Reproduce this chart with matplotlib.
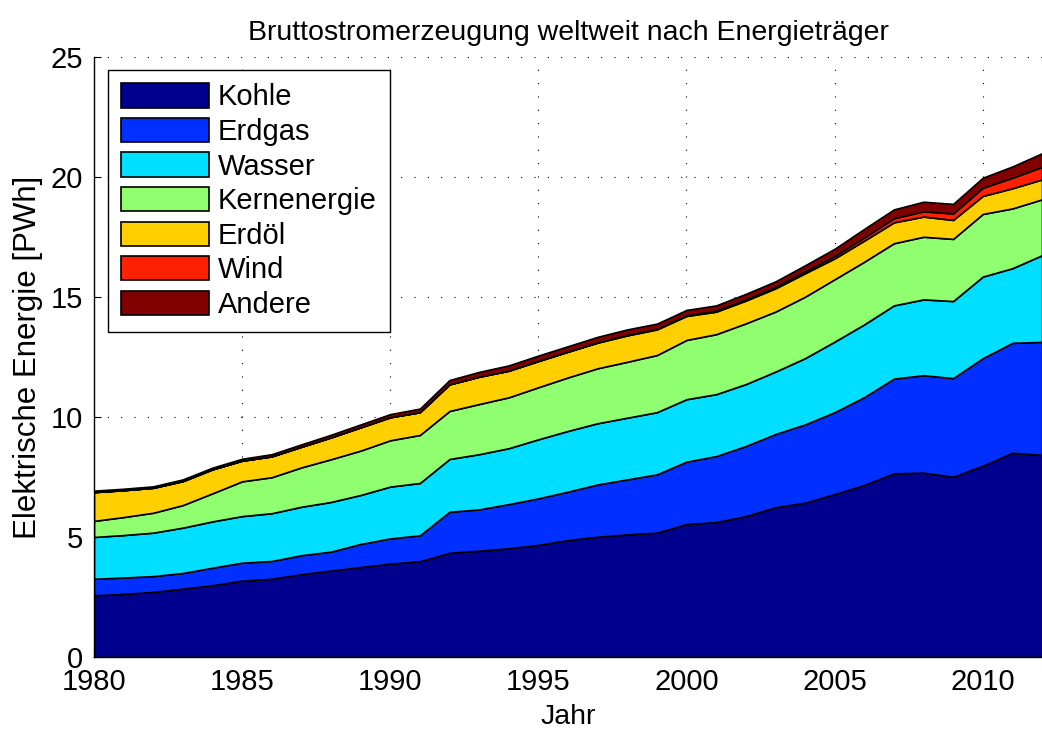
import numpy as np
import matplotlib
matplotlib.use('Agg')
import matplotlib.pyplot as plt

plt.rcParams['font.family'] = ['Liberation Sans', 'DejaVu Sans']

years = np.arange(1980, 2013)

# values in PWh
kohle = [2.57, 2.63, 2.71, 2.85, 2.99, 3.18, 3.26, 3.45, 3.60, 3.75, 3.89, 3.99, 4.34,
         4.43, 4.53, 4.67, 4.87, 5.01, 5.11, 5.18, 5.54, 5.62, 5.87, 6.24, 6.43, 6.79,
         7.17, 7.65, 7.68, 7.51, 7.97, 8.51, 8.42]
erdgas = [0.69, 0.68, 0.66, 0.65, 0.73, 0.75, 0.74, 0.79, 0.79, 0.96, 1.05, 1.08, 1.71,
          1.72, 1.84, 1.94, 2.02, 2.18, 2.29, 2.43, 2.60, 2.75, 2.92, 3.05, 3.26, 3.41,
          3.66, 3.95, 4.06, 4.11, 4.48, 4.58, 4.71]
wasser = [1.74, 1.77, 1.81, 1.89, 1.93, 1.94, 1.99, 2.02, 2.07, 2.04, 2.16, 2.18, 2.20,
          2.30, 2.33, 2.46, 2.53, 2.55, 2.57, 2.59, 2.60, 2.58, 2.58, 2.60, 2.76, 2.94,
          3.03, 3.05, 3.16, 3.21, 3.40, 3.11, 3.61]
kern = [0.67, 0.75, 0.83, 0.94, 1.17, 1.45, 1.50, 1.64, 1.78, 1.85, 1.93, 2.00, 2.00,
        2.09, 2.12, 2.17, 2.23, 2.29, 2.33, 2.38, 2.47, 2.50, 2.53, 2.50, 2.56, 2.60,
        2.61, 2.59, 2.61, 2.59, 2.61, 2.49, 2.33]
erdoel = [1.20, 1.12, 1.04, 1.00, 1.00, 0.86, 0.87, 0.86, 0.91, 0.97, 0.96, 0.95, 1.11,
          1.14, 1.11, 1.09, 1.07, 1.07, 1.10, 1.07, 1.00, 0.94, 0.95, 0.97, 0.98, 0.87,
          0.88, 0.87, 0.84, 0.79, 0.75, 0.84, 0.83]
wind = [0.0, 0.0, 0.0, 0.0, 0.0, 0.0, 0.0, 0.0, 0.0, 0.0, 0.0, 0.0, 0.0,
        0.0, 0.0, 0.01, 0.01, 0.01, 0.02, 0.02, 0.03, 0.04, 0.05, 0.06, 0.08, 0.10,
        0.13, 0.17, 0.22, 0.27, 0.34, 0.44, 0.52]
andere = [0.06, 0.06, 0.06, 0.07, 0.07, 0.08, 0.09, 0.10, 0.11, 0.12, 0.13, 0.15, 0.18,
          0.20, 0.22, 0.22, 0.22, 0.23, 0.23, 0.22, 0.22, 0.22, 0.23, 0.23, 0.25, 0.30,
          0.36, 0.37, 0.40, 0.40, 0.42, 0.47, 0.57]

labels = ['Kohle', 'Erdgas', 'Wasser', 'Kernenergie', 'Erdöl', 'Wind', 'Andere']
colors = [(0, 0, 0.5625), (0, 0.1875, 1), (0, 0.875, 1), (0.5625, 1, 0.4375),
          (1, 0.8125, 0), (1, 0.125, 0), (0.5, 0, 0)]

fig = plt.figure(figsize=(10.42, 7.29), dpi=100)
ax = fig.add_axes([0.0902, 0.0988, 0.9098, 0.823])

ax.stackplot(years, kohle, erdgas, wasser, kern, erdoel, wind, andere,
             labels=labels, colors=colors, edgecolor='black', linewidth=1.2)

ax.set_xlim(1980, 2012)
ax.set_ylim(0, 25)
ax.set_xticks(range(1980, 2011, 5))
ax.set_yticks(range(0, 26, 5))
ax.grid(True, color='black', linestyle=(0, (1, 11)), linewidth=0.8)
ax.set_axisbelow(True)
for s in ['top', 'right']:
    ax.spines[s].set_visible(False)
ax.spines['left'].set_linewidth(1.0)
ax.spines['bottom'].set_linewidth(1.0)
ax.tick_params(direction='in', length=5, labelsize=21, pad=8)

ax.set_title('Bruttostromerzeugung weltweit nach Energieträger', fontsize=20.5, pad=12)
ax.set_xlabel('Jahr', fontsize=20.5, labelpad=6)
ax.set_ylabel('Elektrische Energie [PWh]', fontsize=22.5, labelpad=5)

leg = ax.legend(loc='upper left', bbox_to_anchor=(0.015, 0.978), borderaxespad=0,
                fontsize=21, handlelength=3.0, handleheight=0.9, labelspacing=0.22,
                borderpad=0.45, handletextpad=0.3, fancybox=False, framealpha=1)
leg.get_frame().set_edgecolor('black')
leg.get_frame().set_linewidth(1.0)

fig.savefig('out.png', dpi=100)
